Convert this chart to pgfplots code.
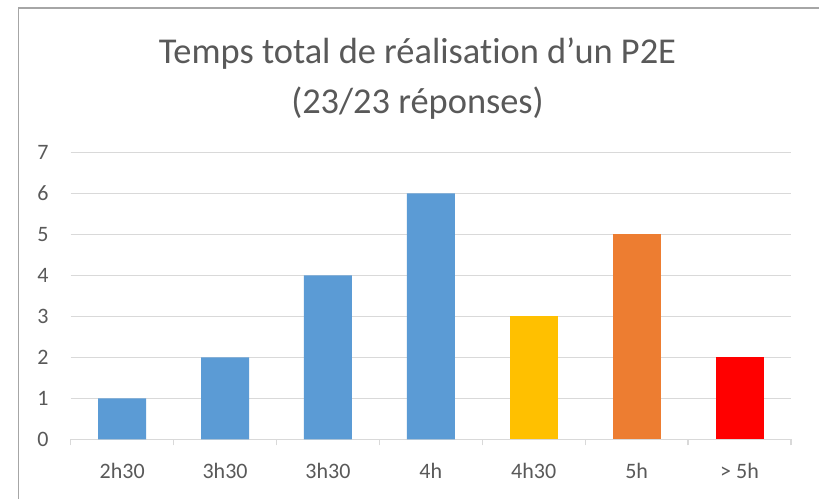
\documentclass[border=0pt]{standalone}
\usepackage{fontspec}
\setmainfont{Carlito}[RawFeature=-liga]
\usepackage{pgfplots}
\pgfplotsset{compat=1.18}
\definecolor{txt}{HTML}{595959}
\definecolor{gridc}{HTML}{D9D9D9}
\definecolor{bblue}{HTML}{5B9BD5}
\definecolor{byellow}{HTML}{FFC000}
\definecolor{borange}{HTML}{ED7D31}
\definecolor{bred}{HTML}{FF0000}
\definecolor{framec}{HTML}{A6A6A6}
\begin{document}
\begin{tikzpicture}
\useasboundingbox (0,0) rectangle (819pt,498pt);
\fill[white] (0,0) rectangle (819pt,498pt);
\draw[framec, line width=1.2pt] (18.7pt,-2pt) -- (18.7pt,490pt) -- (822pt,490pt);
\node[anchor=base, font=\fontsize{36.4}{43}\selectfont, text=txt, inner sep=0pt] at (417.5pt,434.7pt) {Temps total de réalisation d’un P2E};
\node[anchor=base, font=\fontsize{36.4}{43}\selectfont, text=txt, inner sep=0pt] at (417.5pt,384pt) {(23/23 réponses)};
\begin{axis}[
  at={(70.7pt,58.7pt)}, anchor=south west,
  scale only axis, width=720.3pt, height=287pt,
  xmin=-0.5, xmax=6.5, ymin=0, ymax=7,
  ybar, bar width=0.466,
  axis x line*=bottom, axis y line*=left,
  y axis line style={draw=none},
  x axis line style={draw=gridc, line width=1.3pt, -},
  ytick={0,...,7}, ymajorgrids, grid style={draw=gridc, line width=1.2pt},
  xtick={0,...,6}, xticklabels={2h30,3h30,3h30,4h,4h30,5h,{> 5h}},
  minor xtick={-0.5,0.5,...,6.5},
  major tick length=0pt, minor tick length=6pt, tick align=outside,
  minor tick style={draw=gridc, line width=1.3pt},
  major tick style={draw=none},
  /pgf/number format/assume math mode=true,
  tick label style={font=\fontsize{22}{26}\selectfont, text=txt},
  yticklabel style={anchor=east, inner sep=0pt, xshift=-22pt},
  xticklabel style={anchor=base, inner sep=0pt, yshift=-39pt},
]
\addplot[fill=bblue, draw=none, bar shift=0pt] coordinates {(0,1) (1,2) (2,4) (3,6)};
\addplot[fill=byellow, draw=none, bar shift=0pt] coordinates {(4,3)};
\addplot[fill=borange, draw=none, bar shift=0pt] coordinates {(5,5)};
\addplot[fill=bred, draw=none, bar shift=0pt] coordinates {(6,2)};
\end{axis}
\end{tikzpicture}
\end{document}
